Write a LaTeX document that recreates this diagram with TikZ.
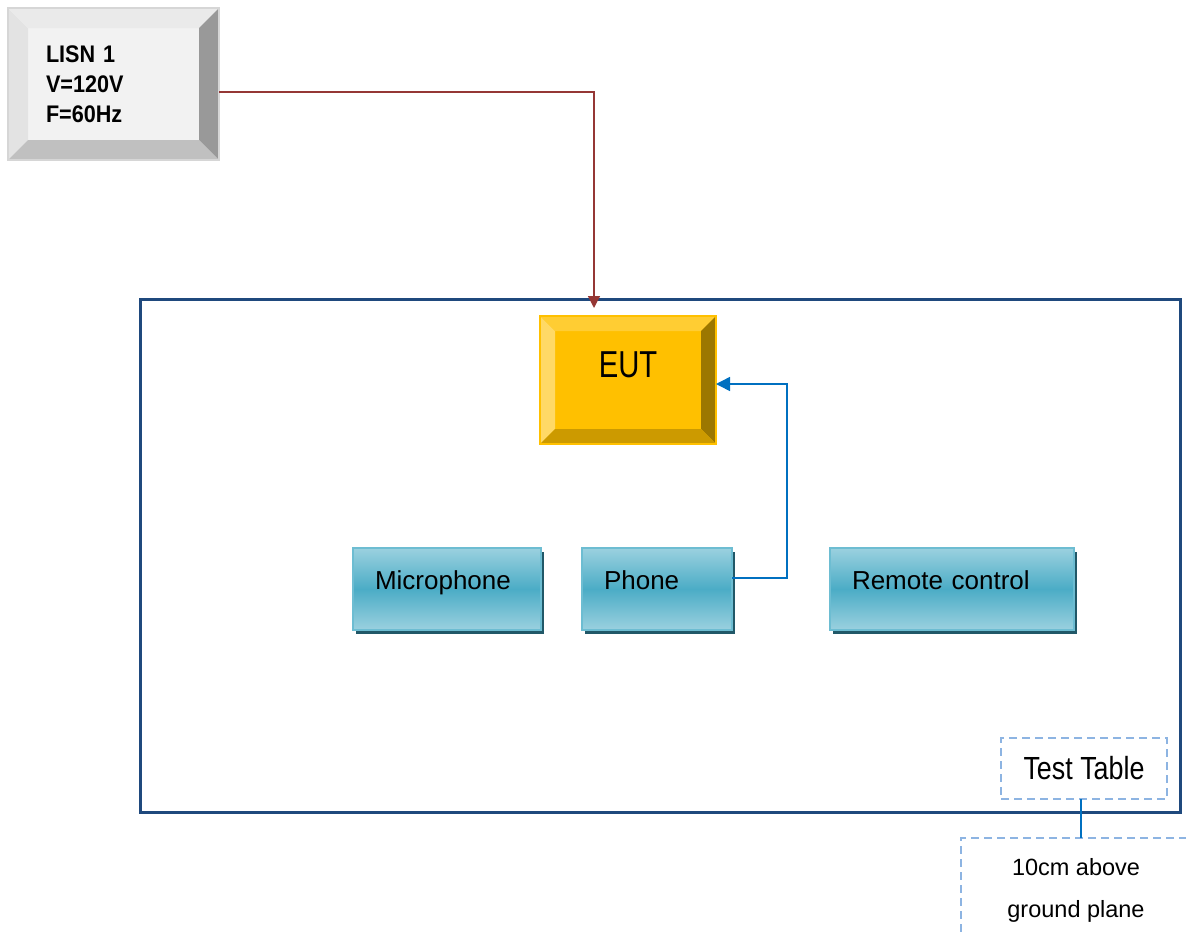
\documentclass[tikz,border=0pt]{standalone}
\usepackage{fontspec}
\setmainfont{Liberation Sans}
\newfontfamily\eutfont{Liberation Sans}[FakeStretch=0.78]
\newfontfamily\lisnfont{Liberation Sans}[FakeStretch=0.9]
\newfontfamily\ttfont{Liberation Sans}[FakeStretch=0.84]
\usetikzlibrary{arrows.meta,calc,shadows}
\definecolor{lisnface}{HTML}{F2F2F2}
\definecolor{lisnleft}{HTML}{E3E3E3}
\definecolor{lisntop}{HTML}{EAEAEA}
\definecolor{lisnright}{HTML}{999999}
\definecolor{lisnbot}{HTML}{C0C0C0}
\definecolor{lisnborder}{HTML}{D6D6D6}
\definecolor{eutface}{HTML}{FFC000}
\definecolor{eutleft}{HTML}{FFD966}
\definecolor{euttop}{HTML}{FFCD33}
\definecolor{eutright}{HTML}{9C7700}
\definecolor{eutbot}{HTML}{CC9A00}
\definecolor{tablecol}{HTML}{1F497D}
\definecolor{redline}{HTML}{953735}
\definecolor{blueline}{HTML}{0070C0}
\definecolor{dashcol}{HTML}{8DB4E2}
\definecolor{acclight}{HTML}{9BD1DF}
\definecolor{accmid}{HTML}{4BACC6}
\definecolor{accborder}{HTML}{6DBDD2}
\definecolor{accshadow}{HTML}{215868}
\newcommand\mybevel[6]{%
  \fill[#3] (#1.north west) -- ($(#1.north west)+(#2,#2)$) -- ($(#1.south west)+(#2,-#2)$) -- (#1.south west) -- cycle;
  \fill[#4] (#1.north west) -- ($(#1.north west)+(#2,#2)$) -- ($(#1.north east)+(-#2,#2)$) -- (#1.north east) -- cycle;
  \fill[#5] (#1.north east) -- ($(#1.north east)+(-#2,#2)$) -- ($(#1.south east)+(-#2,-#2)$) -- (#1.south east) -- cycle;
  \fill[#6] (#1.south west) -- ($(#1.south west)+(#2,-#2)$) -- ($(#1.south east)+(-#2,-#2)$) -- (#1.south east) -- cycle;
}
\tikzset{
  accbox/.style={draw=accborder, line width=1.5pt, top color=acclight, bottom color=acclight, middle color=accmid,
    minimum height=82pt, inner sep=0pt, outer sep=0pt, align=left, text height=18pt, text depth=18pt,
    font=\fontsize{26}{30}\selectfont,
    drop shadow={shadow xshift=3pt, shadow yshift=-4pt, fill=accshadow, opacity=1}},
  dashbox/.style={draw=dashcol, line width=1.5pt, dash pattern=on 8pt off 5pt, inner sep=0pt, outer sep=0pt},
}
\begin{document}
\begin{tikzpicture}[x=1pt,y=-1pt]
\useasboundingbox (0,0) rectangle (1186,937);
% table
\node[draw=tablecol, line width=3pt, minimum width=1040pt, minimum height=513pt, inner sep=0pt, outer sep=0pt] (table) at (660,555.5) {};
% LISN
\node[fill=lisnface, minimum width=211pt, minimum height=152pt, text width=135pt, inner xsep=38pt, inner ysep=0pt, outer sep=0pt,
  align=left, font=\lisnfont\bfseries\fontsize{24}{30}\selectfont] (lisn) at (113.5,84) {LISN 1\\V=120V\\F=60Hz};
\mybevel{lisn}{20}{lisnleft}{lisntop}{lisnright}{lisnbot}
\draw[lisnborder, line width=1.5pt] (lisn.north west) rectangle (lisn.south east);
% EUT
\node[fill=eutface, minimum width=176pt, minimum height=128pt, inner sep=0pt, outer sep=0pt,
  text height=27pt, text depth=32pt, font=\eutfont\fontsize{37.5}{40}\selectfont] (eut) at (628,380) {EUT};
\mybevel{eut}{15}{eutleft}{euttop}{eutright}{eutbot}
\draw[eutface, line width=1.5pt] (eut.north west) rectangle (eut.south east);
% accessories
\node[accbox, minimum width=188pt, text width=144pt] (mic) at (447,589) {Microphone};
\node[accbox, minimum width=150pt, text width=106pt] (phone) at (657,589) {Phone};
\node[accbox, minimum width=244pt, text width=200pt] (remote) at (952,589) {Remote control};
% test table labels
\node[dashbox, minimum width=166pt, minimum height=61pt, font=\ttfont\fontsize{32}{36}\selectfont] (tt) at (1084,768.5) {Test Table};
\node[dashbox, minimum width=230pt, minimum height=104pt, align=center, font=\fontsize{23.5}{42}\selectfont] (gp) at (1076,890) {10cm above\\ground plane};
\draw[blueline, line width=1.5pt] ([xshift=-3pt]tt.south) -- ([xshift=-3pt]tt.south |- gp.north);
% connectors
\coordinate (redend) at (594,308);
\draw[redline, line width=1.5pt, -{Triangle[length=12pt,width=12pt]}] ([yshift=-8pt]lisn.east) -| (redend);
\coordinate (bluecorner) at (787,384);
\draw[blueline, line width=1.5pt, -{Triangle[length=14pt,width=14pt]}] ([yshift=11pt]phone.east) -| (bluecorner) -- ([yshift=-4pt]eut.east);
\end{tikzpicture}
\end{document}
